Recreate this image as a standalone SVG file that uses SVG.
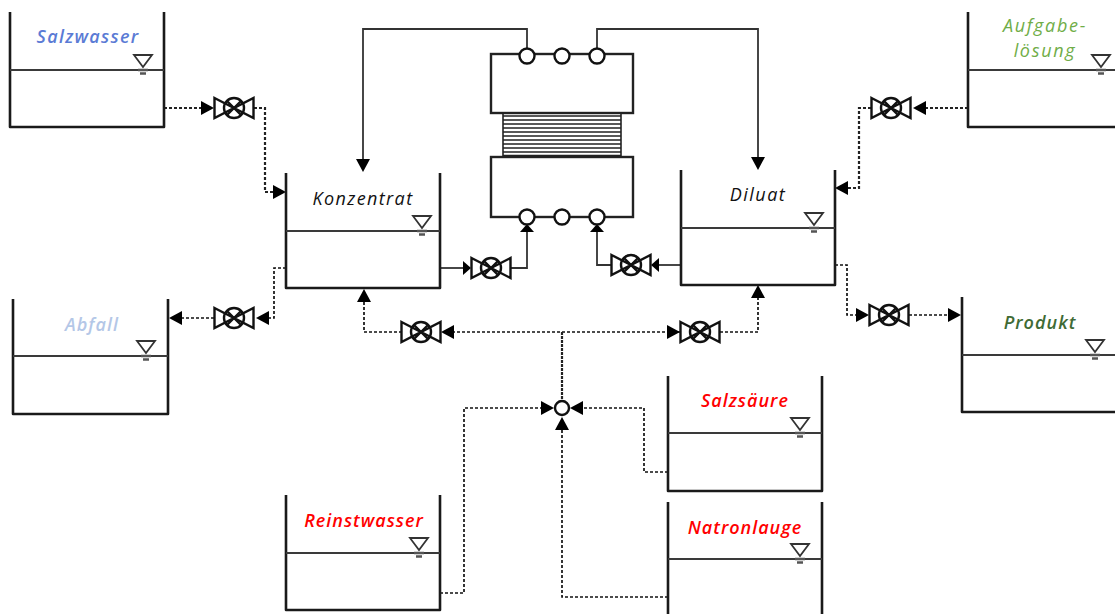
<svg xmlns="http://www.w3.org/2000/svg" width="1115" height="614" viewBox="0 0 1115 614">
<style>
.wall{fill:none;stroke:#1a1a1a;stroke-width:2.6;stroke-linejoin:round}
.lvl{fill:none;stroke:#3a3a3a;stroke-width:2}
.sym{fill:#fff;stroke:#333;stroke-width:1.8}
.v{fill:#fff;stroke:#111;stroke-width:2.4}
.s{fill:none;stroke:#333;stroke-width:1.8}
.d{fill:none;stroke:#222;stroke-width:2.2;stroke-dasharray:3 2}
.t{fill:none;stroke:#111;stroke-width:1.7;stroke-dasharray:3 2}
.box{fill:#fff;stroke:#222;stroke-width:2.4}
.c{fill:#fff;stroke:#111;stroke-width:2.4}
.m{stroke:#222;stroke-width:1.6}
.a{fill:#000}
text{font-family:"Open Sans","Liberation Sans",sans-serif;font-style:italic;font-size:18px;text-anchor:middle;letter-spacing:1px}
.b{font-weight:600}
</style>
<defs>
<g id="valve">
<path class="v" d="M-19.5,-10 L19.5,10 L19.5,-10 L-19.5,10 Z"/>
<circle class="v" style="fill:none" cx="0" cy="0" r="10"/>
<path class="v" d="M-7,-7 L7,7 M-7,7 L7,-7"/>
</g>
<g id="level">
<path class="sym" d="M-9,-14 H9 L0,-2 Z"/>
<path d="M-5,1 H5 M-3,4.5 H3" stroke="#555" stroke-width="2.4"/>
</g>
<path id="ar" class="a" d="M0,0 L-13,-7 V7 Z"/>
<path id="as" class="a" d="M0,0 L-8,-7 V7 Z"/>
</defs>

<g id="connectors">
<path class="d" d="M164,108 H204"/><path class="d" d="M254,108 H265 V192 H274"/>
<path class="d" d="M968,108 H925"/><path class="d" d="M871,108 H859 V188 H848"/>
<path class="t" d="M286,268 H274 V318 H268"/><path class="t" d="M214,318 H182"/>
<path class="t" d="M835,265 H847 V315 H858"/><path class="t" d="M909,315 H950"/>
<path class="s" d="M440,268 H464"/><path class="s" d="M510,268 H527 V232"/>
<path class="s" d="M681,265 H658"/><path class="s" d="M612,265 H597 V232"/>
<path class="s" d="M527,49 V29 H363 V160"/>
<path class="s" d="M597,49 V29 H758 V158"/>
<path class="t" d="M402,332 H364 V302"/><path class="t" d="M680,332 H452"/>
<path class="t" d="M720,332 H758 V298"/>
<path class="d" style="stroke-dasharray:3 1" d="M562,332 V400"/>
<path class="t" d="M440,593 H464 V408 H541"/>
<path class="t" d="M668,472 H644 V408 H583"/>
<path class="t" d="M668,597 H562 V430"/>
<use href="#ar" transform="translate(214,108)"/>
<use href="#ar" transform="translate(286,192)"/>
<use href="#ar" transform="translate(913,108) rotate(180)"/>
<use href="#ar" transform="translate(835,188) rotate(180)"/>
<use href="#ar" transform="translate(256,318) rotate(180)"/>
<use href="#ar" transform="translate(169,318) rotate(180)"/>
<use href="#ar" transform="translate(869,315)"/>
<use href="#ar" transform="translate(961,315)"/>
<use href="#as" transform="translate(471,268)"/>
<use href="#as" transform="translate(651,265) rotate(180)"/>
<use href="#as" transform="translate(527,224) rotate(-90)"/>
<use href="#as" transform="translate(597,224) rotate(-90)"/>
<use href="#ar" transform="translate(363,172) rotate(90)"/>
<use href="#ar" transform="translate(758,170) rotate(90)"/>
<use href="#ar" transform="translate(364,289) rotate(-90)"/>
<use href="#ar" transform="translate(758,285) rotate(-90)"/>
<use href="#ar" transform="translate(441,332) rotate(180)"/>
<use href="#ar" transform="translate(680,332)"/>
<use href="#ar" transform="translate(554,408)"/>
<use href="#ar" transform="translate(570,408) rotate(180)"/>
<use href="#ar" transform="translate(562,417) rotate(-90)"/>
</g>

<g id="stack">
<rect class="box" x="491" y="54" width="142" height="59"/>
<rect class="box" x="491" y="157" width="142" height="60"/>
<path class="m" d="M503,113 V157 M621,113 V157 M503,116 H621 M503,120 H621 M503,124 H621 M503,128 H621 M503,132 H621 M503,136 H621 M503,140 H621 M503,144 H621 M503,148 H621 M503,152 H621 M503,155.500 H621"/>
<circle class="c" cx="527" cy="56" r="7.500"/><circle class="c" cx="562" cy="56" r="7.500"/><circle class="c" cx="597" cy="56" r="7.500"/>
<circle class="c" cx="527" cy="217" r="7.500"/><circle class="c" cx="562" cy="217" r="7.500"/><circle class="c" cx="597" cy="217" r="7.500"/>
</g>

<g id="mixer"><circle class="c" cx="562" cy="408" r="7"/></g>

<g id="valve1"><use href="#valve" x="234" y="108"/></g>
<g id="valve2"><use href="#valve" x="891" y="108"/></g>
<g id="valve3"><use href="#valve" x="234" y="318"/></g>
<g id="valve4"><use href="#valve" x="889" y="315"/></g>
<g id="valve5"><use href="#valve" x="491" y="268"/></g>
<g id="valve6"><use href="#valve" x="631" y="265"/></g>
<g id="valve7"><use href="#valve" x="421" y="332"/></g>
<g id="valve8"><use href="#valve" x="700" y="332"/></g>

<g id="salzwasser">
<path class="wall" d="M10,12 V127 H164 V12"/><path class="lvl" d="M10,70 H164"/><use href="#level" x="143" y="69"/>
<text class="b" x="88" y="43" fill="#5b7bd5" style="letter-spacing:1.300px">Salzwasser</text>
</g>
<g id="konzentrat">
<path class="wall" d="M286,173 V288 H440 V173"/><path class="lvl" d="M286,231 H440"/><use href="#level" x="422" y="230"/>
<text x="363" y="205" fill="#111" style="letter-spacing:1.400px">Konzentrat</text>
</g>
<g id="diluat">
<path class="wall" d="M681,170 V285 H835 V170"/><path class="lvl" d="M681,228 H835"/><use href="#level" x="814" y="227"/>
<text x="758" y="201" fill="#111" style="letter-spacing:1.500px">Diluat</text>
</g>
<g id="aufgabeloesung">
<path class="wall" d="M968,12 V127 H1115"/><path class="lvl" d="M968,70 H1115"/><use href="#level" x="1101" y="69"/>
<text x="1045" y="32" fill="#70ad47" style="letter-spacing:1.700px">Aufgabe-</text>
<text x="1045" y="57" fill="#70ad47" style="letter-spacing:1.700px">lösung</text>
</g>
<g id="abfall">
<path class="wall" d="M13,299 V414 H168 V299"/><path class="lvl" d="M13,356 H168"/><use href="#level" x="146" y="355"/>
<text class="b" x="92" y="331" fill="#b4c7e7">Abfall</text>
</g>
<g id="produkt">
<path class="wall" d="M962,297 V412 H1115"/><path class="lvl" d="M962,355 H1115"/><use href="#level" x="1095" y="354"/>
<text class="b" x="1040" y="329" fill="#3f6b35">Produkt</text>
</g>
<g id="salzsaeure">
<path class="wall" d="M668,376 V491 H822 V376"/><path class="lvl" d="M668,433 H822"/><use href="#level" x="800" y="432"/>
<text class="b" x="745" y="407" fill="#f00">Salzsäure</text>
</g>
<g id="reinstwasser">
<path class="wall" d="M286,495 V610 H440 V495"/><path class="lvl" d="M286,553 H440"/><use href="#level" x="419" y="552"/>
<text class="b" x="364" y="527" fill="#f00">Reinstwasser</text>
</g>
<g id="natronlauge">
<path class="wall" d="M668,502 V614 M822,502 V614"/><path class="lvl" d="M668,559 H822"/><use href="#level" x="800" y="558"/>
<text class="b" x="745" y="534" fill="#f00">Natronlauge</text>
</g>
</svg>
